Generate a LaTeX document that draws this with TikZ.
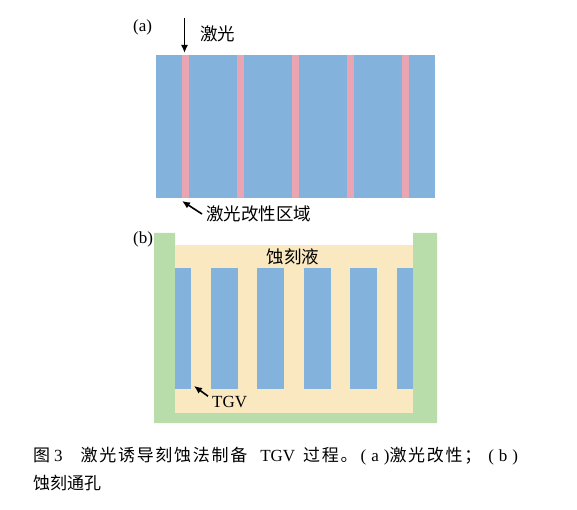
\documentclass[tikz,border=0pt]{standalone}
\usepackage{fontspec}
\setmainfont{Liberation Serif}
\newfontfamily\cjk{Noto Sans CJK SC}
\newfontfamily\cjkwide[LetterSpace=10]{Noto Sans CJK SC}
\usetikzlibrary{arrows.meta, positioning}
\definecolor{GlassBlue}{RGB}{131,178,221}
\definecolor{ModPink}{RGB}{233,166,178}
\definecolor{Etchant}{RGB}{250,232,192}
\definecolor{TankGreen}{RGB}{184,220,170}

\begin{document}
\begin{tikzpicture}[x=1pt, y=-1pt,
  glass/.style={fill=GlassBlue},
  lbl/.style={font=\cjk\fontsize{17.5}{17.5}\selectfont, inner sep=4pt},
  tag/.style={font=\fontsize{17}{17}\selectfont, inner sep=0pt},
  arr/.style={-{Latex[length=8pt, width=7pt]}, line width=1.6pt}
]
  \useasboundingbox (0,0) rectangle (577,510);

  % (a) laser modification
  \node[tag, anchor=west] (taga) at (133,27) {(a)};
  \fill[glass] (156,55) rectangle (435,198);
  \foreach \i in {0,...,4}
    \fill[ModPink] (182+55*\i,55) rectangle ++(7,143);

  \coordinate (beam) at (184.5,18);
  \coordinate (hit)  at (184.5,53);
  \draw[arr] (beam) -- (hit);
  \node[lbl, anchor=west] (laser) at (196,34) {激光};

  \coordinate (modtip) at (182,201);
  \node[lbl, anchor=west] (modlbl) at (202,214) {激光改性区域};
  \draw[arr] (modlbl.west) -- (modtip);

  % (b) etching
  \node[tag, anchor=west] (tagb) at (133,239) {(b)};
  \fill[TankGreen] (154,233) -- (175,233) -- (175,413) -- (413,413)
    -- (413,233) -- (437,233) -- (437,423) -- (154,423) -- cycle;
  \fill[Etchant] (175,245) rectangle (413,413);
  \fill[glass] (175,268) rectangle (413,389);
  \foreach \i in {0,...,4}
    \fill[Etchant] (191+46.5*\i,268) rectangle ++(19.5,121);

  \node[lbl] (etch) at (293,257) {蚀刻液};
  \node[tag, anchor=west, inner sep=4pt] (tgv) at (208,402) {TGV};
  \coordinate (tgvtip) at (194,386);
  \draw[arr] (tgv.165) -- (tgvtip);

  % caption
  \node[anchor=north west, align=left, inner sep=0pt,
        font=\fontsize{17}{28}\selectfont] (caption) at (33,447)
    {{\cjkwide 图}\hspace{4pt}3\hspace{18pt}{\cjkwide 激光诱导刻蚀法制备}\hspace{13pt}TGV\hspace{8pt}{\cjkwide 过程。}\hspace{3pt}(\hspace{5pt}a\hspace{5pt}){\cjkwide 激光改性；}\hspace{7pt}(\hspace{5pt}b\hspace{5pt})\\
     {\cjk 蚀刻通孔}};
\end{tikzpicture}
\end{document}
